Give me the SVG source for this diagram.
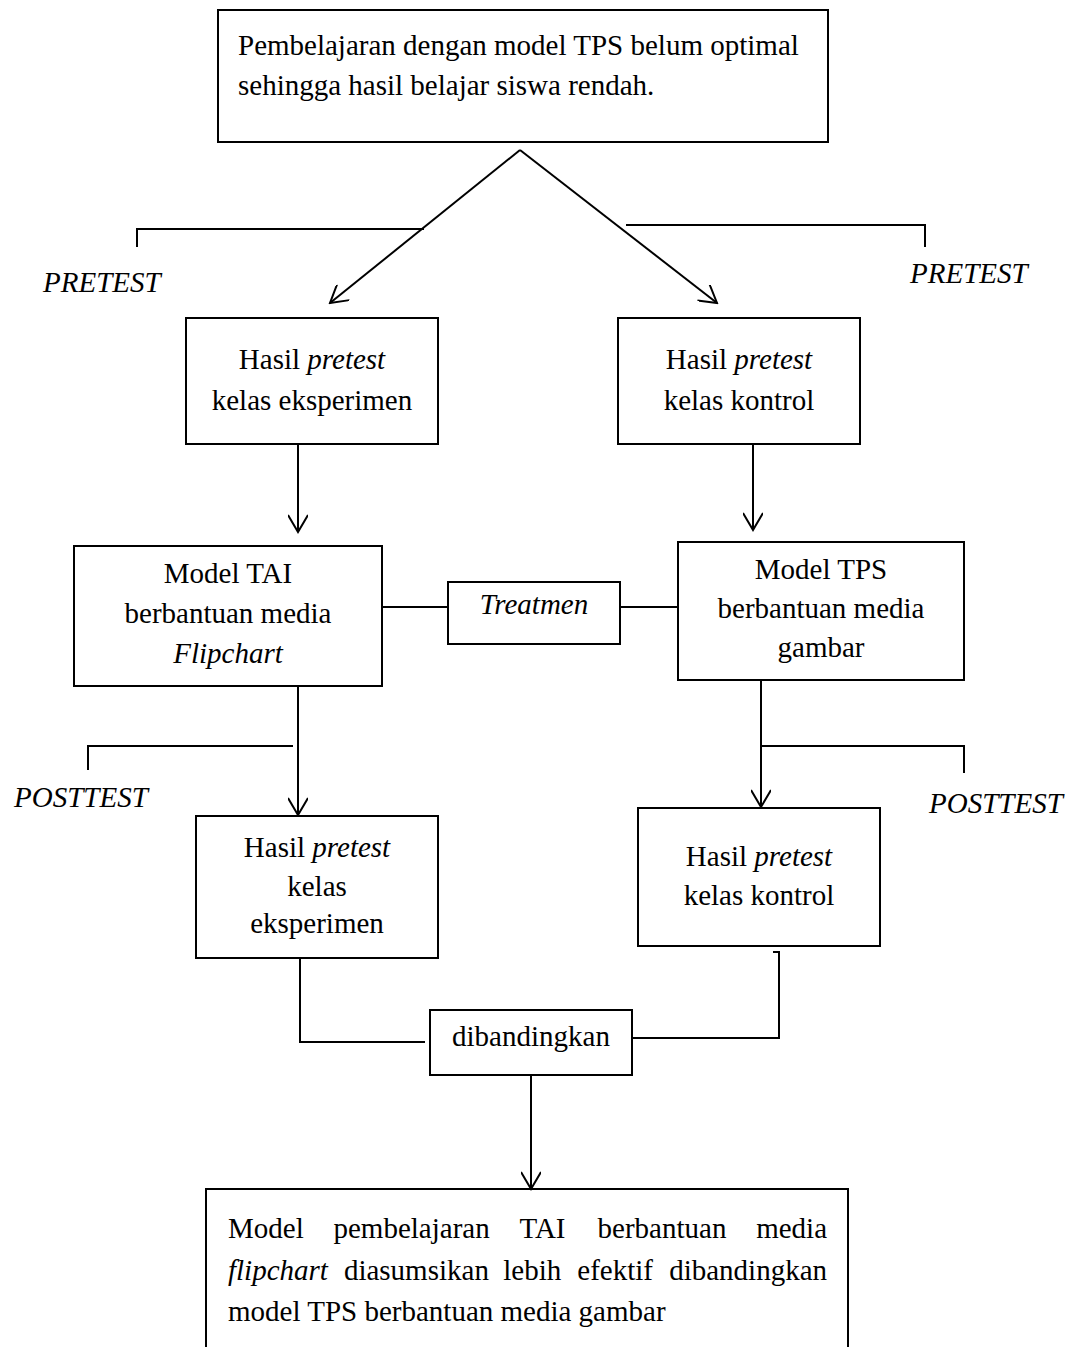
<svg xmlns="http://www.w3.org/2000/svg" width="1072" height="1347" viewBox="0 0 1072 1347">
<style>
text{font-family:"Liberation Serif","Times New Roman",serif;font-size:29px;fill:#000}
.c{text-anchor:middle}
.i{font-style:italic}
.box{fill:#fff;stroke:#000;stroke-width:2}
.ln{fill:none;stroke:#000;stroke-width:2}
</style>
<defs>
<marker id="arr" viewBox="0 0 20 20" markerWidth="20" markerHeight="20" refX="18" refY="10" orient="auto" markerUnits="userSpaceOnUse">
<path d="M1,0 L18,10 L1,20" fill="none" stroke="#000" stroke-width="2"/>
</marker>
</defs>
<rect width="1072" height="1347" fill="#fff"/>

<g id="connectors">
<line class="ln" x1="520" y1="150" x2="330" y2="303" marker-end="url(#arr)"/>
<line class="ln" x1="520" y1="150" x2="717" y2="303" marker-end="url(#arr)"/>
<polyline class="ln" points="137,247 137,229 424,229"/>
<polyline class="ln" points="626,225 925,225 925,247"/>
<line class="ln" x1="298" y1="444" x2="298" y2="532" marker-end="url(#arr)"/>
<line class="ln" x1="753" y1="444" x2="753" y2="530" marker-end="url(#arr)"/>
<line class="ln" x1="382" y1="607" x2="448" y2="607"/>
<line class="ln" x1="620" y1="607" x2="678" y2="607"/>
<line class="ln" x1="298" y1="686" x2="298" y2="815" marker-end="url(#arr)"/>
<polyline class="ln" points="88,770 88,746 293,746"/>
<line class="ln" x1="761" y1="680" x2="761" y2="807" marker-end="url(#arr)"/>
<polyline class="ln" points="761,746 964,746 964,773"/>
<polyline class="ln" points="296,957 300,958 300,1042 425,1042"/>
<polyline class="ln" points="632,1038 779,1038 779,952 773,952"/>
<line class="ln" x1="531" y1="1075" x2="531" y2="1189" marker-end="url(#arr)"/>
</g>

<g id="labels">
<text class="i" x="43" y="292">PRETEST</text>
<text class="i" x="910" y="283">PRETEST</text>
<text class="i" x="14" y="807">POSTTEST</text>
<text class="i" x="929" y="813">POSTTEST</text>
</g>

<g id="n-problem">
<rect class="box" x="218" y="10" width="610" height="132"/>
<text x="238" y="55">Pembelajaran dengan model TPS belum optimal</text>
<text x="238" y="95">sehingga hasil belajar siswa rendah.</text>
</g>

<g id="n-pre-eks">
<rect class="box" x="186" y="318" width="252" height="126"/>
<text class="c" x="312" y="369">Hasil <tspan class="i">pretest</tspan></text>
<text class="c" x="312" y="410">kelas eksperimen</text>
</g>

<g id="n-pre-kon">
<rect class="box" x="618" y="318" width="242" height="126"/>
<text class="c" x="739" y="369">Hasil <tspan class="i">pretest</tspan></text>
<text class="c" x="739" y="410">kelas kontrol</text>
</g>

<g id="n-tai">
<rect class="box" x="74" y="546" width="308" height="140"/>
<text class="c" x="228" y="583">Model TAI</text>
<text class="c" x="228" y="623">berbantuan media</text>
<text class="c i" x="228" y="663">Flipchart</text>
</g>

<g id="n-treat">
<rect class="box" x="448" y="582" width="172" height="62"/>
<text class="c i" x="534" y="614">Treatmen</text>
</g>

<g id="n-tps">
<rect class="box" x="678" y="542" width="286" height="138"/>
<text class="c" x="821" y="579">Model TPS</text>
<text class="c" x="821" y="618">berbantuan media</text>
<text class="c" x="821" y="657">gambar</text>
</g>

<g id="n-post-eks">
<rect class="box" x="196" y="816" width="242" height="142"/>
<text class="c" x="317" y="857">Hasil <tspan class="i">pretest</tspan></text>
<text class="c" x="317" y="896">kelas</text>
<text class="c" x="317" y="933">eksperimen</text>
</g>

<g id="n-post-kon">
<rect class="box" x="638" y="808" width="242" height="138"/>
<text class="c" x="759" y="866">Hasil <tspan class="i">pretest</tspan></text>
<text class="c" x="759" y="905">kelas kontrol</text>
</g>

<g id="n-compare">
<rect class="box" x="430" y="1010" width="202" height="65"/>
<text class="c" x="531" y="1046">dibandingkan</text>
</g>

<g id="n-conclusion">
<path class="ln" d="M206,1348 V1189 H848 V1348"/>
<text x="228" y="1238">Model</text>
<text x="333.5" y="1238">pembelajaran</text>
<text x="519.5" y="1238">TAI</text>
<text x="597.6" y="1238">berbantuan</text>
<text x="827" y="1238" text-anchor="end">media</text>
<text class="i" x="228" y="1280">flipchart</text>
<text x="343.9" y="1280">diasumsikan</text>
<text x="503.3" y="1280">lebih</text>
<text x="577.3" y="1280">efektif</text>
<text x="827" y="1280" text-anchor="end">dibandingkan</text>
<text x="228" y="1321">model TPS berbantuan media gambar</text>
</g>
</svg>
